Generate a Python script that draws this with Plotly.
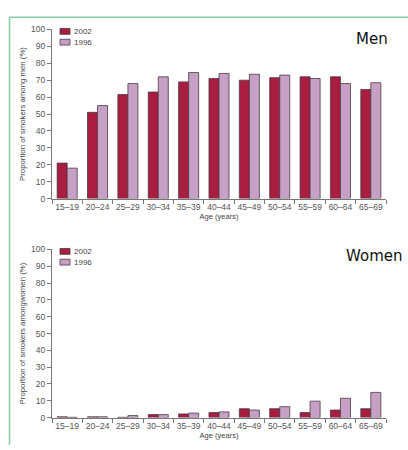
import plotly.graph_objects as go

ages = ["15–19", "20–24", "25–29", "30–34", "35–39", "40–44", "45–49", "50–54", "55–59", "60–64", "65–69"]
men_2002 = [21, 51, 61.5, 63, 69, 71, 70, 71.5, 72, 72, 64.5]
men_1996 = [18, 55, 68, 72, 74.5, 74, 73.5, 73, 71, 68, 68.5]
women_2002 = [0.5, 0.5, 0.2, 1.8, 2.2, 3, 5.3, 5.3, 3, 4.5, 5.3]
women_1996 = [0.2, 0.5, 1.2, 1.8, 2.7, 3.4, 4.5, 6.5, 9.8, 11.5, 15]
y_ticks = [0, 10, 20, 30, 40, 50, 60, 70, 80, 90, 100]
series_names = ["2002", "1996"]

C2002 = "#A81D40"
C1996 = "#C7A0C6"
LINE = "#4a3a44"
W, H = 408, 450

def px_x(p):
    return p / W

def px_y(p):
    return 1 - p / H

fig = go.Figure()
fig.add_trace(go.Bar(x=ages, y=men_2002, name=series_names[0], marker=dict(color=C2002, line=dict(color=LINE, width=0.8)),
                     xaxis="x", yaxis="y", showlegend=False))
fig.add_trace(go.Bar(x=ages, y=men_1996, name=series_names[1], marker=dict(color=C1996, line=dict(color=LINE, width=0.8)),
                     xaxis="x", yaxis="y", showlegend=False))
fig.add_trace(go.Bar(x=ages, y=women_2002, name=series_names[0], marker=dict(color=C2002, line=dict(color=LINE, width=0.8)),
                     xaxis="x2", yaxis="y2", showlegend=False))
fig.add_trace(go.Bar(x=ages, y=women_1996, name=series_names[1], marker=dict(color=C1996, line=dict(color=LINE, width=0.8)),
                     xaxis="x2", yaxis="y2", showlegend=False))

axfont = dict(family="Liberation Sans, Arial", size=8.5, color="#555555")
xcommon = dict(domain=[px_x(52), px_x(386)], showline=True, linecolor="#777777", linewidth=1,
               ticks="outside", tickson="boundaries", ticklen=4, tickcolor="#777777",
               tickfont=axfont, tickangle=0, showgrid=False, zeroline=False,
               title=dict(text="Age (years)", font=dict(family="Liberation Sans, Arial", size=7.5, color="#444444"), standoff=2))
ycommon = dict(range=[0, 100], tickvals=y_ticks, showline=True, linecolor="#777777", linewidth=1,
               ticks="outside", ticklen=4, tickcolor="#777777", tickfont=axfont,
               showgrid=False, zeroline=False)

shapes = [
    dict(type="line", xref="paper", yref="paper", x0=px_x(9.5), x1=1.0, y0=px_y(12.5), y1=px_y(12.5),
         line=dict(color="#86CBA8", width=1.5)),
    dict(type="line", xref="paper", yref="paper", x0=px_x(9.5), x1=px_x(9.5), y0=px_y(12.5), y1=0,
         line=dict(color="#86CBA8", width=1.5)),
]
annotations = [
    dict(text="Men", x=px_x(390), y=px_y(35), xref="paper", yref="paper", xanchor="right", yanchor="middle",
         showarrow=False, font=dict(family="DejaVu Sans", size=15, color="#111111")),
    dict(text="Women", x=px_x(404), y=px_y(257), xref="paper", yref="paper", xanchor="right", yanchor="middle",
         showarrow=False, font=dict(family="DejaVu Sans", size=15, color="#111111")),
]
# compact legends (swatch + label)
for top in (27, 252):
    for i, (nm, col) in enumerate(zip(series_names, [C2002, C1996])):
        yc = top + i * 11
        shapes.append(dict(type="rect", xref="paper", yref="paper", x0=px_x(60), x1=px_x(70),
                           y0=px_y(yc + 3), y1=px_y(yc - 3), fillcolor=col, line=dict(color=LINE, width=0.8)))
        annotations.append(dict(text=nm, x=px_x(72), y=px_y(yc), xref="paper", yref="paper",
                                xanchor="left", yanchor="middle", showarrow=False,
                                font=dict(family="Liberation Sans, Arial", size=8, color="#444444")))

fig.update_layout(
    width=W, height=H,
    margin=dict(l=0, r=0, t=0, b=0),
    paper_bgcolor="white", plot_bgcolor="white",
    barmode="group", bargap=0.34, bargroupgap=0.0,
    showlegend=False,
    xaxis=dict(**xcommon, anchor="y"),
    yaxis=dict(**ycommon, domain=[px_y(198), px_y(25)], anchor="x",
               title=dict(text="Proportion of smokers among men (%)",
                          font=dict(family="Liberation Sans, Arial", size=7.8, color="#444444"), standoff=4)),
    xaxis2=dict(**xcommon, anchor="y2"),
    yaxis2=dict(**ycommon, domain=[px_y(422), px_y(250)], anchor="x2",
                title=dict(text="Proportion of smokers amongwomen (%)",
                           font=dict(family="Liberation Sans, Arial", size=7.8, color="#444444"), standoff=4)),
    annotations=annotations,
    shapes=shapes,
)

fig.write_html("out.html",
               config={"displayModeBar": False},
               post_script="document.body.style.margin='0';document.body.style.overflow='hidden';")
